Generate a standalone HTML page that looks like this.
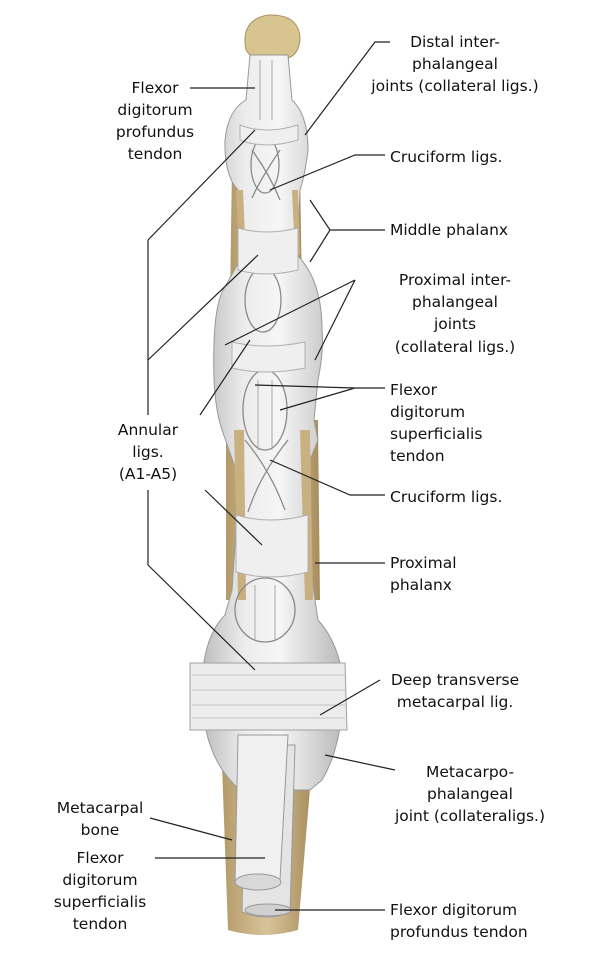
<!DOCTYPE html>
<html><head><meta charset="utf-8"><style>
body{margin:0;background:#fff;}
svg{display:block}
text{font-family:"DejaVu Sans","Liberation Sans",sans-serif;font-size:15.5px;fill:#111}
</style></head><body>
<svg width="609" height="963" viewBox="0 0 609 963" xmlns="http://www.w3.org/2000/svg">
<defs>
<linearGradient id="lg" x1="0" x2="1" y1="0" y2="0">
<stop offset="0" stop-color="#bdbdbd"/><stop offset="0.3" stop-color="#ececec"/><stop offset="0.55" stop-color="#f6f6f6"/><stop offset="1" stop-color="#b8b8b8"/>
</linearGradient>
<linearGradient id="bg" x1="0" x2="1"><stop offset="0" stop-color="#b49a68"/><stop offset="0.5" stop-color="#d8c49a"/><stop offset="1" stop-color="#a88e5e"/></linearGradient>
</defs>
<!-- metacarpal bone -->
<path d="M222,765 L312,765 L298,930 Q262,940 228,930 Z" fill="url(#bg)"/>
<!-- bone edges along finger -->
<path d="M232,165 L300,165 L302,300 L230,300 Z" fill="url(#bg)"/>
<path d="M226,420 L318,420 L320,600 L226,600 Z" fill="url(#bg)"/>
<!-- tip -->
<path d="M246,50 Q240,20 268,15 Q300,14 300,40 Q298,55 288,58 L252,58 Z" fill="#d8c48e" stroke="#a89060"/>
<!-- main finger body -->
<path d="M250,55 L288,55 L292,100 Q308,115 308,150 Q305,175 300,190 L297,255 Q322,280 322,330 Q324,350 318,380 L314,420 L318,440 L310,460 L306,520 L312,580 L318,620 Q345,650 343,700 Q340,750 322,780 L310,790 L240,790 Q205,760 202,700 Q200,640 225,615 L232,590 L236,530 L236,470 L222,430 Q212,400 214,345 Q215,300 226,285 L240,260 L238,190 Q224,175 225,140 Q228,110 246,100 Z" fill="url(#lg)" stroke="#999" stroke-width="1"/>
<!-- bone strips visible -->
<path d="M236,190 L240,262 L246,262 L243,190Z" fill="#c8b080"/>
<path d="M292,190 L295,255 L300,255 L298,190Z" fill="#c8b080"/>
<path d="M234,430 L238,600 L246,600 L244,430Z" fill="#c8b080"/>
<path d="M300,430 L305,600 L313,600 L310,430Z" fill="#c8b080"/>
<!-- loops (cruciform windows) -->
<g fill="none" stroke="#8a8a8a" stroke-width="1.3">
<ellipse cx="265" cy="165" rx="14" ry="28"/>
<path d="M252,150 Q270,175 280,200 M280,150 Q260,180 252,198"/>
<ellipse cx="263" cy="300" rx="18" ry="32"/>
<ellipse cx="265" cy="410" rx="22" ry="40"/>
<path d="M245,440 Q270,470 285,510 M288,440 Q260,475 248,512"/>
<ellipse cx="265" cy="610" rx="30" ry="32"/>
</g>
<!-- tendon lines -->
<g stroke="#aaa" stroke-width="1">
<line x1="260" y1="60" x2="260" y2="120"/><line x1="272" y1="60" x2="272" y2="120"/>
<line x1="258" y1="380" x2="258" y2="450"/><line x1="272" y1="380" x2="272" y2="450"/>
<line x1="255" y1="585" x2="255" y2="640"/><line x1="275" y1="585" x2="275" y2="640"/>
</g>
<!-- annular bands -->
<g fill="#efefef" stroke="#b0b0b0">
<path d="M240,125 Q265,135 298,125 L298,140 Q265,150 240,140Z"/>
<path d="M238,228 Q265,236 298,228 L298,270 Q265,278 238,270Z"/>
<path d="M232,342 Q265,350 305,342 L305,368 Q265,376 232,368Z"/>
<path d="M236,515 Q270,525 308,515 L308,572 Q270,582 236,572Z"/>
</g>
<!-- transverse ligament -->
<path d="M190,663 L345,663 L347,730 L190,730 Z" fill="#ececec" stroke="#a0a0a0"/>
<g stroke="#c4c4c4"><line x1="192" y1="675" x2="345" y2="675"/><line x1="192" y1="690" x2="345" y2="690"/><line x1="192" y1="705" x2="345" y2="705"/><line x1="192" y1="718" x2="345" y2="718"/></g>
<!-- deep tendon (back) -->
<path d="M245,745 L295,745 L290,912 Q268,922 242,912 Z" fill="#e4e4e4" stroke="#999"/>
<!-- superficialis tendon front -->
<path d="M238,735 L288,735 L280,880 Q258,895 235,882 Z" fill="#f0f0f0" stroke="#999"/>
<ellipse cx="258" cy="882" rx="23" ry="8" fill="#d8d8d8" stroke="#999"/>
<ellipse cx="268" cy="910" rx="23" ry="6" fill="#d0d0d0" stroke="#999"/>
<!-- leader lines -->
<g stroke="#222" stroke-width="1.2" fill="none">
<path d="M190,88 L255,88"/>
<path d="M390,42 L375,42 L305,135"/>
<path d="M385,155 L355,155 L270,190"/>
<path d="M310,200 L330,230 L310,262 M330,230 L385,230"/>
<path d="M355,280 L225,345 M355,280 L315,360"/>
<path d="M385,388 L355,388 L255,385 M355,388 L280,410"/>
<path d="M148,240 L148,415 M148,490 L148,565"/>
<path d="M148,240 L255,130 M148,360 L258,255 M200,415 L250,340 M148,565 L255,670 M205,490 L262,545"/>
<path d="M385,495 L350,495 L270,460"/>
<path d="M385,563 L315,563"/>
<path d="M380,680 L320,715"/>
<path d="M395,770 L325,755"/>
<path d="M150,818 L232,840"/>
<path d="M155,858 L265,858"/>
<path d="M385,910 L275,910"/>
</g>
<!-- labels -->
<g text-anchor="middle">
<text x="155" y="93">Flexor</text><text x="155" y="115">digitorum</text><text x="155" y="137">profundus</text><text x="155" y="159">tendon</text>
<text x="455" y="47">Distal inter-</text><text x="455" y="69">phalangeal</text><text x="455" y="91">joints (collateral ligs.)</text>
<text x="455" y="285">Proximal inter-</text><text x="455" y="307">phalangeal</text><text x="455" y="329">joints</text><text x="455" y="352">(collateral ligs.)</text>
<text x="148" y="435">Annular</text><text x="148" y="457">ligs.</text><text x="148" y="479">(A1-A5)</text>
<text x="455" y="685">Deep transverse</text><text x="455" y="707">metacarpal lig.</text>
<text x="470" y="777">Metacarpo-</text><text x="470" y="799">phalangeal</text><text x="470" y="821">joint (collateraligs.)</text>
<text x="100" y="813">Metacarpal</text><text x="100" y="835">bone</text>
<text x="100" y="863">Flexor</text><text x="100" y="885">digitorum</text><text x="100" y="907">superficialis</text><text x="100" y="929">tendon</text>
</g>
<text x="390" y="162">Cruciform ligs.</text>
<text x="390" y="235">Middle phalanx</text>
<text x="390" y="395">Flexor</text><text x="390" y="417">digitorum</text><text x="390" y="439">superficialis</text><text x="390" y="461">tendon</text>
<text x="390" y="502">Cruciform ligs.</text>
<text x="390" y="568">Proximal</text><text x="390" y="590">phalanx</text>
<text x="390" y="915">Flexor digitorum</text><text x="390" y="937">profundus tendon</text>
</svg>
</body></html>
